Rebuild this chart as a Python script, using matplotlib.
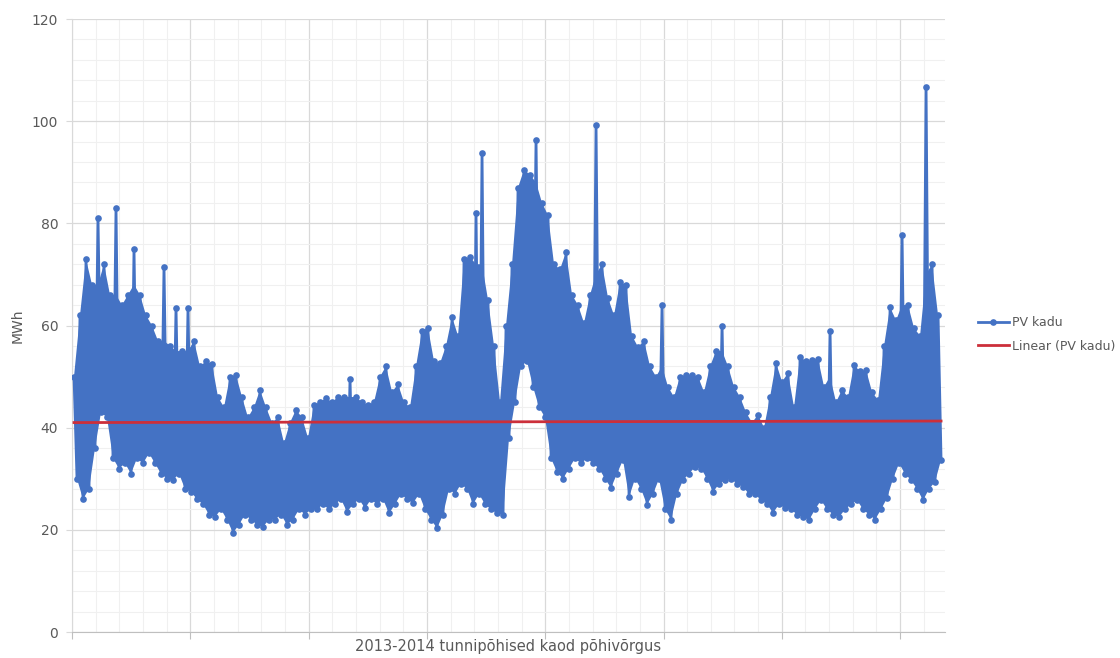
import numpy as np
import matplotlib
matplotlib.use("Agg")
import matplotlib.pyplot as plt
from matplotlib.ticker import MultipleLocator, NullFormatter

# Hourly grid losses 2013-2014 (MWh): daily highs and lows in time order
daily_high = [
    50, 62, 73, 68, 68, 72, 66, 66, 64, 66,
    68, 66, 62, 60, 57, 57, 56, 55, 55, 55,
    57, 52, 53, 52.5, 46, 44, 50, 50.3, 46, 42,
    44, 47.4, 44, 41, 42, 37, 41, 43.5, 42, 38,
    44.5, 45, 45.8, 45, 46, 46, 46, 46, 45, 44.5,
    45, 50, 52, 47, 48.5, 45, 44, 52, 59, 59.5,
    53, 52.6, 56, 61.7, 58, 73, 73.4, 72, 72, 65,
    56, 45, 60, 72, 87, 90.5, 89.5, 88, 84, 81.6,
    72, 71, 74.4, 66, 64, 60.5, 66, 70, 72, 65.4,
    62, 68.5, 68, 58, 55.8, 57, 52, 50, 52, 48,
    46, 50, 50.3, 50.3, 50, 47, 52, 55, 55, 52,
    48, 46, 43, 41, 42.5, 40, 46, 52.7, 49, 50.7,
    44, 53.9, 53, 53.2, 53.5, 48, 50, 45, 47.4, 46,
    52.3, 51, 51.3, 47, 45.4, 56, 63.6, 61, 64, 64,
    59.5, 58, 70, 72, 62,
]
daily_low = [
    30, 26, 28, 36, 43, 42, 34, 32, 33, 31,
    34, 33, 35, 33, 31, 30, 29.7, 31, 28, 27.4,
    26, 25, 23, 22.5, 24, 22, 19.4, 21, 23, 22,
    21, 20.6, 22, 22, 23, 21, 22, 24, 23, 24,
    24, 25, 24, 25, 26, 23.5, 25, 26, 24.2, 26,
    25, 26, 23.2, 25, 27, 26, 25.2, 27, 24, 22,
    20.3, 23, 28, 27, 29, 28, 25, 27, 25, 24,
    23.2, 23, 38, 45, 52, 53, 48, 44, 42, 34,
    31.3, 30, 32, 34, 33, 34, 33, 32, 30, 28.2,
    31, 33.7, 26.4, 30, 28, 24.9, 27, 30, 24, 22,
    27, 29.7, 31, 32.3, 32, 30, 27.4, 29, 29.7, 30,
    29, 28.4, 27, 27, 25.8, 25, 23.3, 25, 24.2, 24,
    23, 22.5, 21.9, 24, 25.8, 24, 23, 22.5, 24, 25,
    25.8, 24, 23, 22, 24, 26.2, 30, 33, 31, 29.7,
    28, 25.8, 28, 29.4, 33.7,
]
# single-hour peaks: day index and value
spike_day = [4, 7, 10, 15, 17, 19, 46, 67, 68, 77, 87, 98, 108, 126, 138, 142]
spike_value = [81, 83, 75, 71.5, 63.5, 63.5, 49.5, 82, 93.7, 96.3, 99.3,
               64, 60, 59, 77.7, 106.7]
# linear trend of the series at its first and last hour
trend_ends = [41.0, 41.3]

hours_total = 8760
legend_labels = ["PV kadu", "Linear (PV kadu)"]
x_title = "2013-2014 tunnipõhised kaod põhivõrgus"
y_title = "MWh"

highs = np.array(daily_high, dtype=float)
highs[spike_day] = spike_value
lows = np.array(daily_low, dtype=float)

# interleave highs and lows into one hourly-looking series
values = np.ravel(np.column_stack([highs, lows]))
hours = np.linspace(20, hours_total - 40, len(values))
h_high = hours[0::2]
h_low = hours[1::2]

blue = "#4472C4"
red = "#CC2F3A"
grey_text = "#595959"

fig = plt.figure(figsize=(11.2, 6.58), dpi=100)
ax = fig.add_axes([0.0643, 0.0395, 0.7795, 0.9316])

# solid body of the day-to-day swing
ax.fill(np.concatenate([h_high, h_low[::-1]]),
        np.concatenate([daily_high, daily_low[::-1]]),
        color=blue, linewidth=0, zorder=2)
line, = ax.plot(hours, values, color=blue, linewidth=2.0, marker="o",
                markersize=4.8, markeredgewidth=0, label=legend_labels[0],
                zorder=3)
trend, = ax.plot([hours[0], hours[-1]], trend_ends, color=red, linewidth=2.0,
                 label=legend_labels[1], zorder=4)

ax.set_xlim(0, hours_total)
ax.set_ylim(0, 120)

ax.yaxis.set_major_locator(MultipleLocator(20))
ax.yaxis.set_minor_locator(MultipleLocator(4))
ax.xaxis.set_major_locator(MultipleLocator(1187))
ax.xaxis.set_minor_locator(MultipleLocator(1187 / 5))
ax.xaxis.set_major_formatter(NullFormatter())

ax.grid(which="major", color="#D9D9D9", linewidth=0.9)
ax.grid(which="minor", color="#F0F0F0", linewidth=0.8)
ax.set_axisbelow(True)

for side in ["top", "right"]:
    ax.spines[side].set_visible(False)
ax.spines["left"].set_color("#D9D9D9")
ax.spines["bottom"].set_color("#BFBFBF")

ax.tick_params(axis="y", which="major", length=4, color="#D9D9D9",
               labelsize=10, labelcolor=grey_text, pad=6)
ax.tick_params(axis="x", which="major", length=5, color="#BFBFBF")
ax.tick_params(which="minor", length=0)

ax.set_xlabel(x_title, fontsize=10.5, color=grey_text)
ax.xaxis.set_label_coords(0.5, -0.012)
ax.set_ylabel(y_title, fontsize=10, color=grey_text, labelpad=5)

fig.legend(handles=[line, trend], loc="upper left",
           bbox_to_anchor=(0.863, 0.537), frameon=False, fontsize=9,
           labelcolor=grey_text, handlelength=2.5, handletextpad=0.2,
           labelspacing=0.85)

fig.savefig("out.png", dpi=100)
